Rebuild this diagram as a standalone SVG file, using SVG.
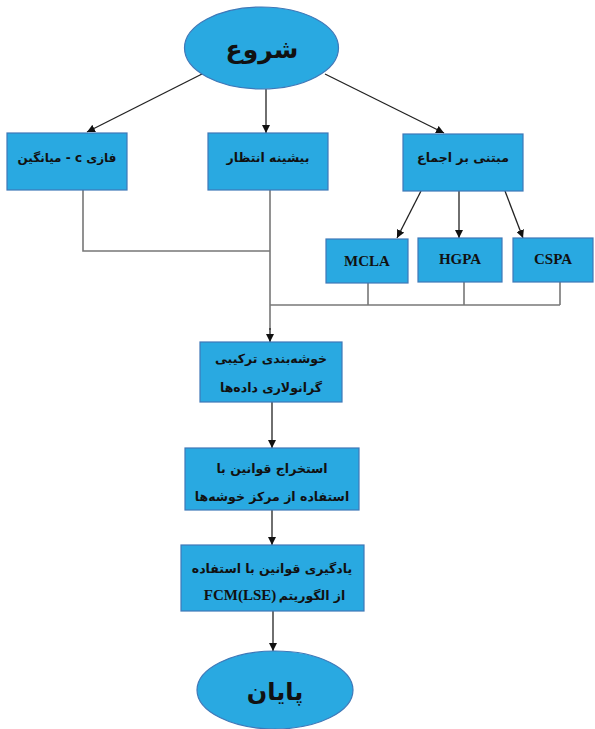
<svg xmlns="http://www.w3.org/2000/svg" width="595" height="729" viewBox="0 0 595 729">
<style>
.nd{fill:#29A9E1;stroke:#3F78B8;stroke-width:1.2}
.fa{font-family:"DejaVu Sans",sans-serif;font-weight:bold;fill:#111;text-anchor:middle}
.en{font-family:"Liberation Serif",serif;font-weight:bold;fill:#111;text-anchor:middle;font-size:15px}
.ar{fill:none;stroke:#222;stroke-width:1.3}
.ln{fill:none;stroke:#777;stroke-width:1.6}
</style>
<defs>
<marker id="ah" viewBox="0 0 10 10" refX="10" refY="5" markerWidth="8" markerHeight="8" markerUnits="userSpaceOnUse" orient="auto">
<path d="M0,0 L10,5 L0,10 z" fill="#111"/>
</marker>
</defs>
<g id="connectors">
<line class="ar" x1="202" y1="74" x2="87" y2="132" marker-end="url(#ah)"/>
<line class="ar" x1="266" y1="89" x2="266" y2="133" marker-end="url(#ah)"/>
<line class="ar" x1="325" y1="74" x2="444" y2="133" marker-end="url(#ah)"/>
<line class="ar" x1="421" y1="191" x2="397" y2="238" marker-end="url(#ah)"/>
<line class="ar" x1="459" y1="191" x2="459" y2="238" marker-end="url(#ah)"/>
<line class="ar" x1="505" y1="191" x2="523" y2="238" marker-end="url(#ah)"/>
<polyline class="ln" points="83,190 83,251 270,251"/>
<line class="ln" x1="270" y1="190" x2="270" y2="330"/>
<polyline class="ln" points="270,305 560,305"/>
<line class="ln" x1="368" y1="283" x2="368" y2="305"/>
<line class="ln" x1="464" y1="282" x2="464" y2="305"/>
<line class="ln" x1="560" y1="282" x2="560" y2="305"/>
<line class="ar" x1="270" y1="328" x2="270" y2="342" marker-end="url(#ah)"/>
<line class="ar" x1="272" y1="402" x2="272" y2="448" marker-end="url(#ah)"/>
<line class="ar" x1="272" y1="510" x2="272" y2="545" marker-end="url(#ah)"/>
<line class="ar" x1="273" y1="611" x2="273" y2="651" marker-end="url(#ah)"/>
</g>
<g id="start">
<ellipse class="nd" cx="261.5" cy="48" rx="77" ry="41"/>
<text class="fa" x="262" y="58" font-size="25">شروع</text>
</g>
<g id="fcm">
<rect class="nd" x="7" y="133" width="120" height="57"/>
<text class="fa" x="67" y="162" font-size="12" direction="rtl">فازی c - میانگین</text>
</g>
<g id="em">
<rect class="nd" x="208" y="133" width="120" height="57"/>
<text class="fa" x="268" y="162" font-size="12.5" direction="rtl">بیشینه انتظار</text>
</g>
<g id="consensus">
<rect class="nd" x="403" y="134" width="120" height="57"/>
<text class="fa" x="463" y="162" font-size="12.5" direction="rtl">مبتنی بر اجماع</text>
</g>
<g id="mcla">
<rect class="nd" x="326" y="239" width="82" height="44"/>
<text class="en" x="367" y="266">MCLA</text>
</g>
<g id="hgpa">
<rect class="nd" x="418" y="238" width="84" height="44"/>
<text class="en" x="460" y="264">HGPA</text>
</g>
<g id="cspa">
<rect class="nd" x="513" y="238" width="80" height="44"/>
<text class="en" x="553" y="264">CSPA</text>
</g>
<g id="cluster">
<rect class="nd" x="200" y="342" width="142" height="60"/>
<text class="fa" x="271" y="363" font-size="12.5" direction="rtl">خوشه‌بندی ترکیبی</text>
<text class="fa" x="271" y="392" font-size="12.5" direction="rtl">گرانولاری داده‌ها</text>
</g>
<g id="extract">
<rect class="nd" x="185" y="448" width="174" height="62"/>
<text class="fa" x="272" y="473" font-size="12.5" direction="rtl">استخراج قوانین با</text>
<text class="fa" x="272" y="501" font-size="12.5" direction="rtl">استفاده از مرکز خوشه‌ها</text>
</g>
<g id="learn">
<rect class="nd" x="181" y="545" width="183" height="66"/>
<text class="fa" x="272" y="573" font-size="12.5" direction="rtl">یادگیری قوانین با استفاده</text>
<text class="en" x="240" y="600" font-size="15">FCM(LSE)</text>
<text class="fa" x="312" y="600" font-size="12.5" direction="rtl">از الگوریتم</text>
</g>
<g id="end">
<ellipse class="nd" cx="275" cy="690" rx="78" ry="39"/>
<text class="fa" x="275" y="700" font-size="24">پایان</text>
</g>
</svg>
